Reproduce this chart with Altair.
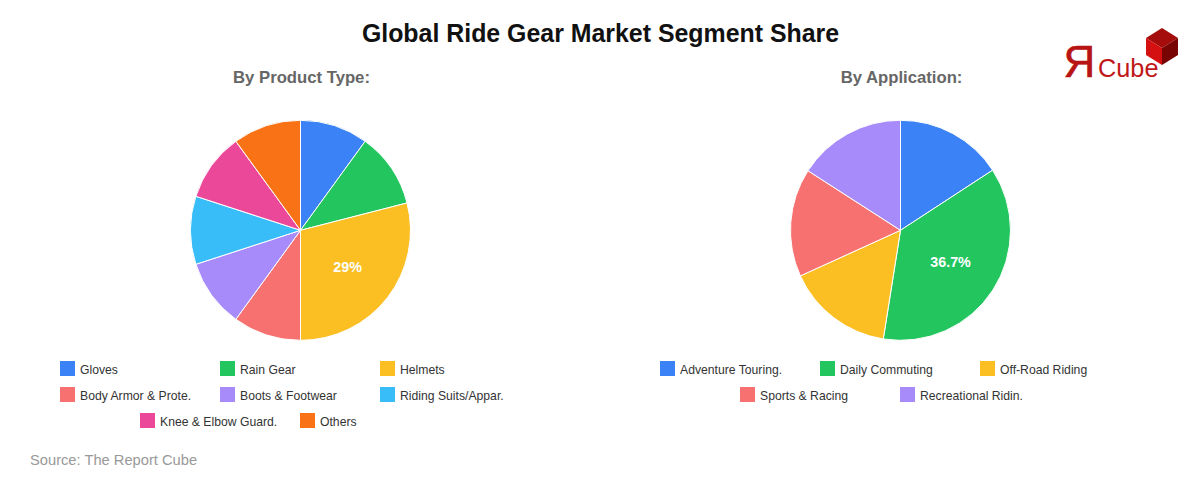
import urllib.parse
import altair as alt
import pandas as pd

# ---- data ----
product_names = ["Gloves", "Rain Gear", "Helmets", "Body Armor & Prote.", "Boots & Footwear",
                 "Riding Suits/Appar.", "Knee & Elbow Guard.", "Others"]
product_values = [10, 11, 29, 10, 10, 10, 10, 10]
product_labels = ["", "", "29%", "", "", "", "", ""]

app_names = ["Adventure Touring.", "Daily Commuting", "Off-Road Riding", "Sports & Racing", "Recreational Ridin."]
app_values = [15.8, 36.7, 15.7, 15.9, 15.9]
app_labels = ["", "36.7%", "", "", ""]

palette = ["#3b82f6", "#22c55e", "#fbbf24", "#f87171", "#a78bfa", "#38bdf8", "#ec4899", "#f97316"]

main_title = "Global Ride Gear Market Segment Share"
left_title = "By Product Type:"
right_title = "By Application:"
source_text = "Source: The Report Cube"

# ---- layout (page pixels less the 8px margin) ----
M = 8
FONT = "Liberation Sans"
LEFT_C, RIGHT_C, CY, R = 300.5 - M, 900.5 - M, 230.3 - M, 110
ITEM_W, PER_ROW, ROW_H, LEG_Y = 160, 3, 26, 368.5 - M


def pie(names, values, labels, cx):
    df = pd.DataFrame({"name": names, "value": values, "label": labels,
                       "order": range(len(names)), "fill": palette[:len(names)]})
    theta = alt.Theta("value:Q", stack=True, scale=alt.Scale(domain=[0, 100]))
    order = alt.Order("order:Q", sort="ascending")
    arcs = alt.Chart(df).mark_arc(radius=R, stroke="white", strokeWidth=1).encode(
        theta=theta, order=order, detail="name:N",
        fill=alt.Fill("fill:N", scale=None),
        x=alt.value(cx), y=alt.value(CY),
        tooltip=["name:N", "value:Q"],
    )
    text = alt.Chart(df).mark_text(radius=60, font=FONT, fontSize=14.3, fontWeight="bold",
                                   color="white").encode(
        theta=theta, order=order, detail="name:N", text="label:N",
        x=alt.value(cx - 0.3), y=alt.value(CY + 0.5),
    )
    return [arcs, text]


def legend(names, center):
    rows = []
    n = len(names)
    for i, name in enumerate(names):
        row = i // PER_ROW
        in_row = min(PER_ROW, n - row * PER_ROW)
        start = center - in_row * ITEM_W / 2
        px = start + (i % PER_ROW) * ITEM_W
        rows.append({"name": name, "fill": palette[i], "sx": px + 7.5, "tx": px + 20,
                     "py": LEG_Y + row * ROW_H, "ty": LEG_Y + row * ROW_H + 1})
    df = pd.DataFrame(rows)
    sym = alt.Chart(df).mark_square(size=225, opacity=1).encode(
        x=alt.X("sx:Q", scale=None, axis=None), y=alt.Y("py:Q", scale=None, axis=None),
        fill=alt.Fill("fill:N", scale=None),
    )
    lab = alt.Chart(df).mark_text(align="left", baseline="middle", font=FONT, fontSize=12.2,
                                  color="#333333").encode(
        x=alt.X("tx:Q", scale=None, axis=None), y=alt.Y("ty:Q", scale=None, axis=None),
        text="name:N",
    )
    return [sym, lab]


def label(txt, x, y, size, color, weight="normal", align="center", **kw):
    return alt.Chart(pd.DataFrame({"t": [txt]})).mark_text(
        font=FONT, fontSize=size, color=color, fontWeight=weight, align=align,
        baseline="alphabetic", **kw
    ).encode(text="t:N", x=alt.value(x - M), y=alt.value(y - M))


# logo cube: decoration, drawn as a small inline picture
cube_svg = (
    "<svg xmlns='http://www.w3.org/2000/svg' width='34' height='38' viewBox='0 0 34 38'>"
    "<polygon points='17,0 33,10 17,20 1,10' fill='#a50d0d'/>"
    "<polygon points='1,10 17,20 17,37 1,27' fill='#d41010'/>"
    "<polygon points='33,10 17,20 17,37 33,27' fill='#780404'/>"
    "</svg>"
)
cube_url = "data:image/svg+xml," + urllib.parse.quote(cube_svg)
cube = alt.Chart(pd.DataFrame({"u": [cube_url]})).mark_image(
    width=34, height=38, align="left", baseline="top"
).encode(url="u:N", x=alt.value(1145 - M), y=alt.value(28 - M))

layers = []
layers += pie(product_names, product_values, product_labels, LEFT_C)
layers += pie(app_names, app_values, app_labels, RIGHT_C)
layers += legend(product_names, 300 - M)
layers += legend(app_names, 900 - M)
layers += [
    label(main_title, 600.5, 42, 24.9, "#111111", "bold"),
    label(left_title, 301.5, 83, 16.7, "#666666", "bold"),
    label(right_title, 901.5, 83, 16.7, "#666666", "bold"),
    label(source_text, 30, 465, 14.7, "#999999", align="left"),
    label("Я", 1063.5, 77, 44, "#b81414", align="left", stroke="#b81414", strokeWidth=0.6),
    label("Cube", 1098, 77, 25.3, "#c01818", align="left"),
    cube,
]

chart = alt.layer(*layers).properties(
    width=1184, height=462, padding=0,
    autosize=alt.AutoSizeParams(type="none", contains="padding"),
    background="white",
).configure_view(stroke=None)

chart.save("out.html", embed_options={"renderer": "svg", "actions": False})
